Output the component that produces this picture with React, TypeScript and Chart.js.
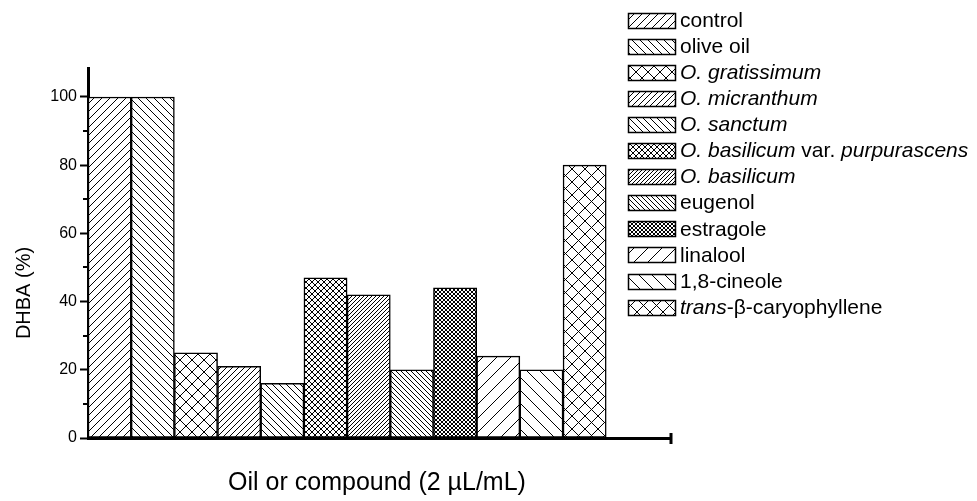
import React, { useEffect, useRef } from "react";
import { Chart, registerables } from "chart.js";

Chart.register(...registerables);

// ---------- data ----------
const categories = [
  "control",
  "olive oil",
  "O. gratissimum",
  "O. micranthum",
  "O. sanctum",
  "O. basilicum var. purpurascens",
  "O. basilicum",
  "eugenol",
  "estragole",
  "linalool",
  "1,8-cineole",
  "trans-β-caryophyllene",
];
// legend text with *italic* parts
const legendMarkup = [
  "control",
  "olive oil",
  "*O. gratissimum*",
  "*O. micranthum*",
  "*O. sanctum*",
  "*O. basilicum* var. *purpurascens*",
  "*O. basilicum*",
  "eugenol",
  "estragole",
  "linalool",
  "1,8-cineole",
  "*trans*-β-caryophyllene",
];
const dhbaValues = [100, 100, 25, 21, 16, 47, 42, 20, 44, 24, 20, 80];
const yMajorTicks = [0, 20, 40, 60, 80, 100];
const yMinorTicks = [10, 30, 50, 70, 90];
const yAxisMax = 108.5;
const xAxisMax = 13.5;
const yTitle = "DHBA (%)";
const xTitle = "Oil or compound (2 µL/mL)";

// ---------- styles ----------
const FONT = "'Liberation Sans', Arial, Helvetica, sans-serif";
const hatchKinds = ["/", "\\", "x", "/", "\\", "x", "/", "\\", "x", "/", "\\", "x"];
const hatchSpacing = [8, 8, 12, 6, 7, 6, 4, 5, 4, 14, 13, 13];

function makeHatch(kind: string, s: number): CanvasPattern | string {
  const c = document.createElement("canvas");
  c.width = s;
  c.height = s;
  const g = c.getContext("2d");
  if (!g) return "#fff";
  g.fillStyle = "#fff";
  g.fillRect(0, 0, s, s);
  g.strokeStyle = "#000";
  g.lineWidth = 1;
  const fwd = () => {
    g.beginPath();
    g.moveTo(0, s);
    g.lineTo(s, 0);
    g.moveTo(-s / 2, s / 2);
    g.lineTo(s / 2, -s / 2);
    g.moveTo(s / 2, s * 1.5);
    g.lineTo(s * 1.5, s / 2);
    g.stroke();
  };
  const back = () => {
    g.beginPath();
    g.moveTo(0, 0);
    g.lineTo(s, s);
    g.moveTo(-s / 2, s / 2);
    g.lineTo(s / 2, s * 1.5);
    g.moveTo(s / 2, -s / 2);
    g.lineTo(s * 1.5, s / 2);
    g.stroke();
  };
  if (kind === "/" || kind === "x") fwd();
  if (kind === "\\" || kind === "x") back();
  return g.createPattern(c, "repeat") || "#fff";
}

function parseMarkup(m: string): { text: string; italic: boolean }[] {
  const parts = m.split("*");
  return parts
    .map((t, i) => ({ text: t, italic: i % 2 === 1 }))
    .filter((p) => p.text.length > 0);
}

export default function App() {
  const ref = useRef<HTMLCanvasElement | null>(null);

  useEffect(() => {
    if (!ref.current) return;
    const patterns = hatchKinds.map((k, i) => makeHatch(k, hatchSpacing[i]));

    const decor = {
      id: "decor",
      afterDraw(chart: any) {
        const ctx = chart.ctx as CanvasRenderingContext2D;
        const ys = chart.scales.y;
        const xs = chart.scales.x;
        const area = chart.chartArea;
        ctx.save();
        // minor y ticks
        ctx.strokeStyle = "#000";
        ctx.lineWidth = 2;
        yMinorTicks.forEach((v) => {
          const py = Math.round(ys.getPixelForValue(v));
          ctx.beginPath();
          ctx.moveTo(area.left - 5, py);
          ctx.lineTo(area.left, py);
          ctx.stroke();
        });
        // x axis end tick
        ctx.lineWidth = 3;
        const ex = xs.getPixelForValue(xAxisMax);
        ctx.beginPath();
        ctx.moveTo(ex, area.bottom - 5);
        ctx.lineTo(ex, area.bottom + 6);
        ctx.stroke();

        // titles
        ctx.fillStyle = "#000";
        ctx.font = `20px ${FONT}`;
        ctx.textAlign = "center";
        ctx.textBaseline = "middle";
        ctx.save();
        ctx.translate(24, 293);
        ctx.rotate(-Math.PI / 2);
        ctx.fillText(yTitle, 0, 0);
        ctx.restore();
        ctx.font = `25px ${FONT}`;
        ctx.fillText(xTitle, 377, 483);

        // legend
        const lx = 628;
        const ly0 = 20;
        const step = 26.1;
        const sw = 47;
        const sh = 15;
        legendMarkup.forEach((m, i) => {
          const cy = ly0 + i * step;
          const top = Math.round(cy - sh / 2) + 0.5;
          ctx.fillStyle = patterns[i] as any;
          ctx.fillRect(lx + 0.5, top, sw, sh);
          ctx.lineWidth = 1.5;
          ctx.strokeStyle = "#000";
          ctx.strokeRect(lx + 0.5, top, sw, sh);
          let tx = lx + sw + 5;
          ctx.fillStyle = "#000";
          ctx.textAlign = "left";
          ctx.textBaseline = "middle";
          parseMarkup(m).forEach((p) => {
            ctx.font = `${p.italic ? "italic " : ""}21px ${FONT}`;
            ctx.fillText(p.text, tx, cy + 1);
            tx += ctx.measureText(p.text).width;
          });
        });
        ctx.restore();
      },
    };

    const chart = new Chart(ref.current, {
      type: "bar",
      data: {
        labels: categories,
        datasets: [
          {
            label: "DHBA",
            data: dhbaValues.map((v, i) => ({ x: i + 0.5, y: v })) as any,
            backgroundColor: patterns as any,
            borderColor: "#000",
            borderWidth: 1.5,
            borderSkipped: false,
            categoryPercentage: 1,
            barPercentage: 1,
          },
        ],
      },
      options: {
        responsive: false,
        animation: false,
        devicePixelRatio: 1,
        layout: { padding: { left: 0, right: 306, top: 68, bottom: 0 } },
        plugins: { legend: { display: false }, tooltip: { enabled: false } },
        scales: {
          x: {
            type: "linear",
            min: 0,
            max: xAxisMax,
            offset: false,
            grid: { display: false, offset: false, drawTicks: false },
            border: { display: true, width: 3, color: "#000" },
            ticks: { display: false },
            afterBuildTicks: (s: any) => {
              s.ticks = [{ value: 0 }, { value: xAxisMax }];
            },
            afterFit: (s: any) => {
              s.height = 63;
            },
          },
          y: {
            type: "linear",
            min: 0,
            max: yAxisMax,
            grid: {
              display: true,
              drawOnChartArea: false,
              drawTicks: true,
              tickLength: 8,
              tickWidth: 2,
              tickColor: (c: any) =>
                c.tick && yMajorTicks.includes(c.tick.value) ? "#000" : "rgba(0,0,0,0)",
            },
            border: { display: true, width: 3, color: "#000" },
            ticks: {
              padding: 3,
              color: "#000",
              font: { family: FONT, size: 16 },
              callback: (v: any) => (yMajorTicks.includes(Number(v)) ? String(v) : ""),
            },
            afterBuildTicks: (s: any) => {
              s.ticks = [...yMajorTicks, ...yMinorTicks]
                .sort((a, b) => a - b)
                .map((v) => ({ value: v }));
            },
            afterFit: (s: any) => {
              s.width = 88;
            },
          },
        },
      },
      plugins: [decor],
    });
    return () => chart.destroy();
  }, []);

  return (
    <div style={{ position: "fixed", left: 0, top: 0, width: 977, height: 501, background: "#fff" }}>
      <canvas ref={ref} width={977} height={501} style={{ display: "block" }} />
    </div>
  );
}
